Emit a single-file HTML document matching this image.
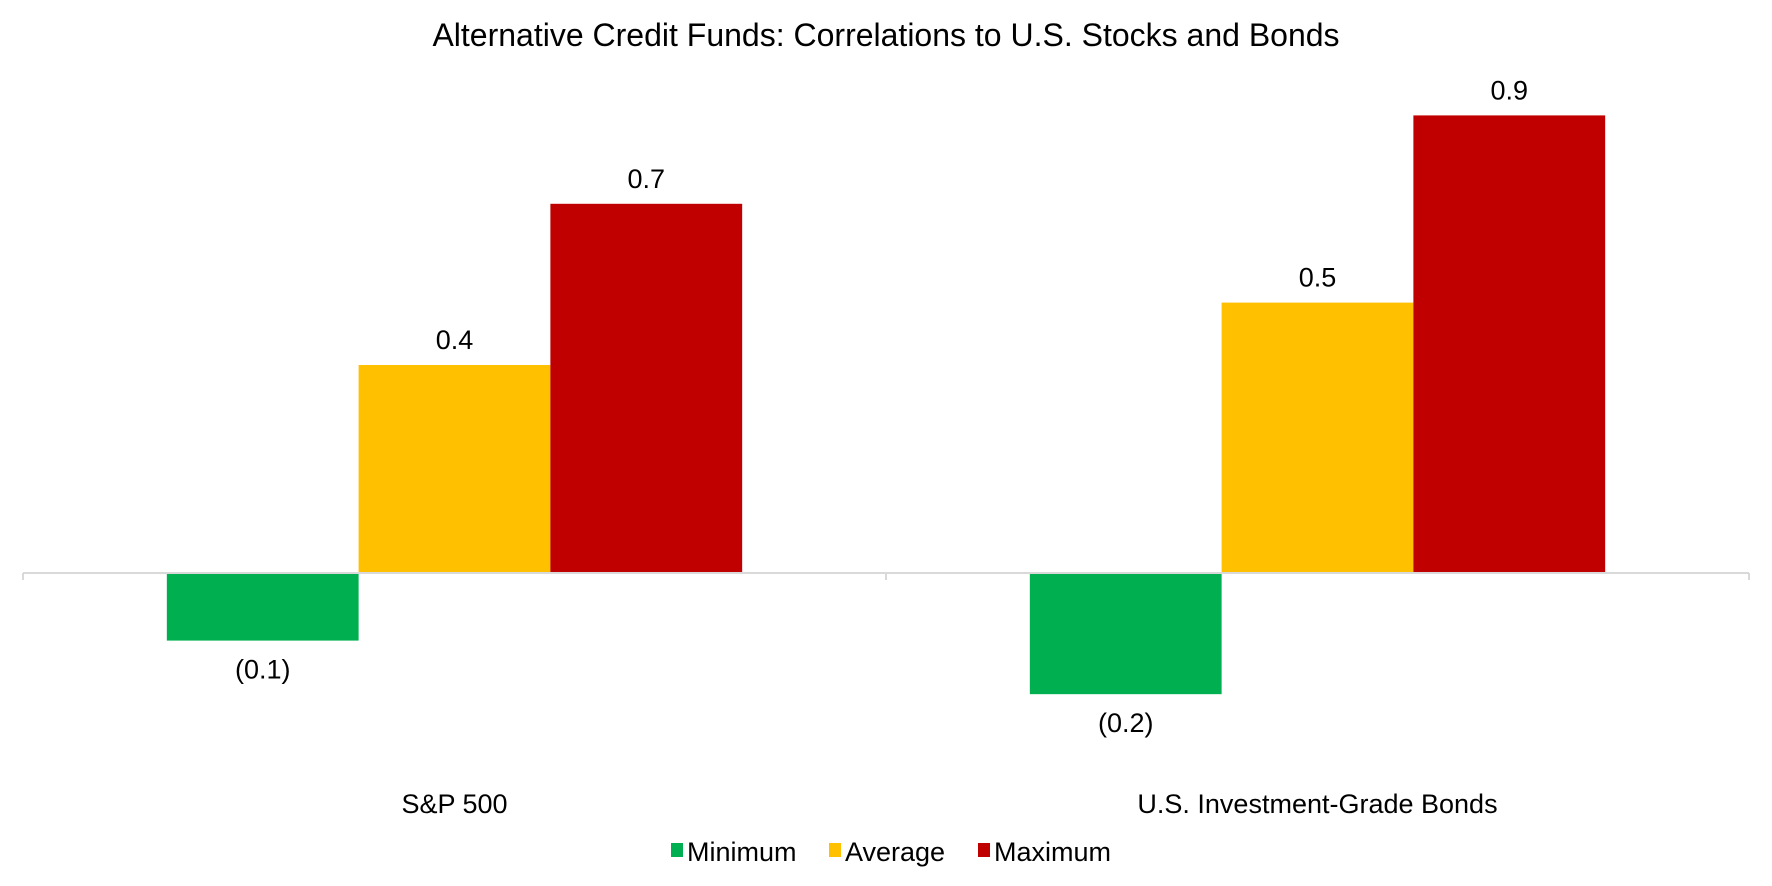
<!DOCTYPE html>
<html><head><meta charset="utf-8"><style>
html,body{margin:0;padding:0;background:#fff;}
svg{display:block;font-family:"Liberation Sans",Arial,sans-serif;}
</style></head><body>
<svg id="chart" width="1772" height="886" viewBox="0 0 1772 886" xmlns="http://www.w3.org/2000/svg">
<text x="886" y="46" text-anchor="middle" font-size="32" fill="#000">Alternative Credit Funds: Correlations to U.S. Stocks and Bonds</text>
<g id="bars"></g>
<line x1="23" y1="573" x2="1749" y2="573" stroke="#d9d9d9" stroke-width="2"/>
<line x1="23" y1="573" x2="23" y2="580" stroke="#d9d9d9" stroke-width="2"/>
<line x1="886" y1="573" x2="886" y2="580" stroke="#d9d9d9" stroke-width="2"/>
<line x1="1749" y1="573" x2="1749" y2="580" stroke="#d9d9d9" stroke-width="2"/>
<g id="cats"></g>
<g>
<rect x="671" y="843" width="12" height="14" fill="#00b050"/>
<text x="687" y="861" font-size="27">Minimum</text>
<rect x="829" y="843" width="12" height="14" fill="#ffc000"/>
<text x="845" y="861" font-size="27">Average</text>
<rect x="978" y="843" width="12" height="14" fill="#c00000"/>
<text x="994" y="861" font-size="27">Maximum</text>
</g>
</svg>
<script>
const categories = ["S&P 500", "U.S. Investment-Grade Bonds"];
const minimumValues = [-0.13, -0.233];
const averageValues = [0.40, 0.52];
const maximumValues = [0.71, 0.88];
const seriesNames = ["Minimum", "Average", "Maximum"];

const NS = "http://www.w3.org/2000/svg";
const series = [minimumValues, averageValues, maximumValues];
const colors = ["#00b050", "#ffc000", "#c00000"];
const plotLeft = 23, plotRight = 1749, zeroY = 573, pxPerUnit = 520;
const groupW = (plotRight - plotLeft) / categories.length;
const barW = groupW / 4.5;
function yScale(v){ return zeroY - v * pxPerUnit; }
function xBar(ci, si){ return plotLeft + ci*groupW + 0.75*barW + si*barW; }
function fmt(v){ const s = Math.abs(v).toFixed(1); return v < 0 ? "(" + s + ")" : s; }

const gb = document.getElementById("bars");
series.forEach((vals, si) => {
  vals.forEach((v, ci) => {
    const r = document.createElementNS(NS, "rect");
    
    
    const x = xBar(ci, si);
    r.setAttribute("x", x);
    r.setAttribute("width", barW);
    r.setAttribute("y", Math.min(yScale(v), zeroY));
    r.setAttribute("height", Math.abs(yScale(v) - zeroY));
    r.setAttribute("fill", colors[si]);
    gb.appendChild(r);
    const t = document.createElementNS(NS, "text");
    
    
    t.setAttribute("x", x + barW/2);
    t.setAttribute("y", v >= 0 ? yScale(v) - 16 : yScale(v) + 38);
    t.setAttribute("text-anchor", "middle");
    t.setAttribute("font-size", "27");
    t.textContent = fmt(v);
    gb.appendChild(t);
  });
});
const gc = document.getElementById("cats");
categories.forEach((c, ci) => {
  const t = document.createElementNS(NS, "text");
  
  
  t.setAttribute("x", plotLeft + ci*groupW + groupW/2);
  t.setAttribute("y", 813);
  t.setAttribute("text-anchor", "middle");
  t.setAttribute("font-size", "27");
  t.textContent = c;
  gc.appendChild(t);
});
</script>
</body></html>
